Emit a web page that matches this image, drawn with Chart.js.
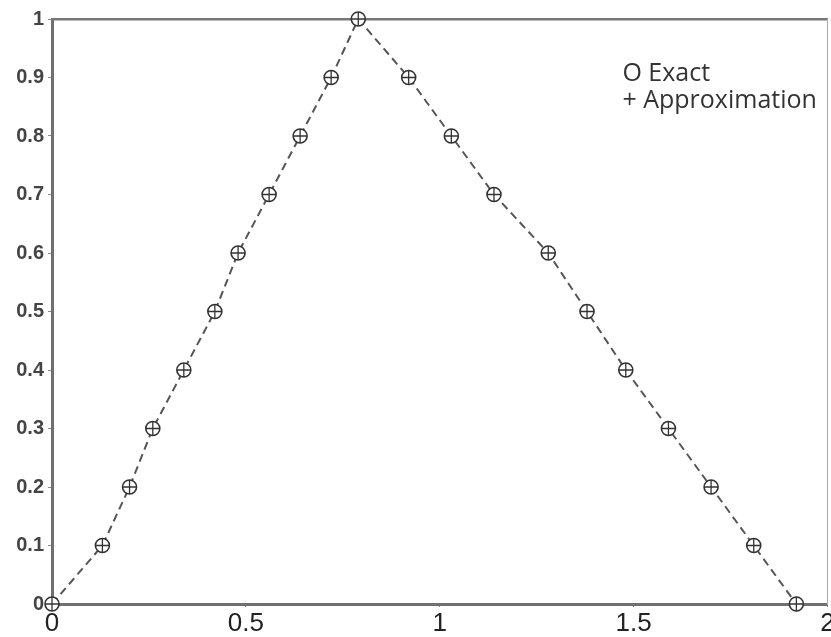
<!DOCTYPE html>
<html>
<head>
<meta charset="utf-8">
<script src="https://cdn.jsdelivr.net/npm/chart.js@4/dist/chart.umd.min.js"></script>
<style>
  html, body { margin: 0; padding: 0; background: #fff; }
  #wrap { width: 831px; height: 637px; overflow: hidden; position: relative; }
  #myChart { display: block; }
</style>
</head>
<body>
<div id="wrap"><canvas id="myChart" width="836" height="637"></canvas></div>
<script>
// values
const xValues = [0, 0.13, 0.20, 0.26, 0.34, 0.42, 0.48, 0.56, 0.64, 0.72, 0.79,
                 0.92, 1.03, 1.14, 1.28, 1.38, 1.48, 1.59, 1.70, 1.81, 1.92];
const exactValues = [0, 0.1, 0.2, 0.3, 0.4, 0.5, 0.6, 0.7, 0.8, 0.9, 1,
                     0.9, 0.8, 0.7, 0.6, 0.5, 0.4, 0.3, 0.2, 0.1, 0];
const approxValues = [0, 0.1, 0.2, 0.3, 0.4, 0.5, 0.6, 0.7, 0.8, 0.9, 1,
                      0.9, 0.8, 0.7, 0.6, 0.5, 0.4, 0.3, 0.2, 0.1, 0];
const xTickValues = [0, 0.5, 1, 1.5, 2];
const yTickValues = [0, 0.1, 0.2, 0.3, 0.4, 0.5, 0.6, 0.7, 0.8, 0.9, 1];
const seriesLabels = ['Exact', 'Approximation'];
const seriesSymbols = ['O', '+'];

const toPoints = (ys) => xValues.map((x, i) => ({ x: x, y: ys[i] }));
const setTicks = (vals) => (scale) => { scale.ticks = vals.map(v => ({ value: v })); };
const plainLabel = (v) => String(v);

// the legend in the picture is just two lines of text inside the plot
const legendText = {
  id: 'legendText',
  afterDraw(chart) {
    const ctx = chart.ctx;
    const area = chart.chartArea;
    ctx.save();
    ctx.font = '25px "Open Sans"';
    ctx.fillStyle = '#333';
    ctx.textBaseline = 'middle';
    seriesLabels.forEach((t, i) => {
      ctx.fillText(seriesSymbols[i] + ' ' + t, area.right - 205, area.top + 55 + i * 27);
    });
    ctx.restore();
  }
};

var ctx = document.getElementById('myChart').getContext('2d');
var chart = new Chart(ctx, {
    type: 'scatter',
    data: {
        datasets: [{
            label: seriesLabels[0],
            data: toPoints(exactValues),
            showLine: true,
            borderColor: '#555',
            borderWidth: 2,
            borderDash: [8, 5],
            pointStyle: 'circle',
            pointRadius: 7,
            pointBackgroundColor: '#fff',
            pointBorderColor: '#333',
            pointBorderWidth: 1.6,
            clip: false,
            order: 2
        }, {
            label: seriesLabels[1],
            data: toPoints(approxValues),
            showLine: false,
            pointStyle: 'cross',
            pointRadius: 7,
            pointBorderColor: '#333',
            pointBorderWidth: 1.3,
            clip: false,
            order: 1
        }]
    },
    options: {
        responsive: false,
        animation: false,
        layout: { padding: { top: 19, left: 0, right: 0, bottom: 0 } },
        plugins: {
            legend: { display: false },
            tooltip: { enabled: false }
        },
        scales: {
            x: {
                type: 'linear',
                position: 'bottom',
                min: 0,
                max: 2,
                afterBuildTicks: setTicks(xTickValues),
                afterFit: (s) => { s.height = 33; },
                border: { color: '#707070', width: 3 },
                grid: { drawOnChartArea: false, tickLength: 3, color: '#888' },
                ticks: { font: { family: 'Liberation Sans', size: 26 }, color: '#222', padding: 1, maxRotation: 0, callback: plainLabel }
            },
            y: {
                type: 'linear',
                position: 'left',
                min: 0,
                max: 1,
                afterBuildTicks: setTicks(yTickValues),
                afterFit: (s) => { s.width = 52; },
                border: { color: '#707070', width: 3 },
                grid: { drawOnChartArea: false, tickLength: 4, color: '#888' },
                ticks: { font: { family: 'Liberation Sans', size: 20, weight: 'bold' }, color: '#444', padding: 4, callback: plainLabel }
            },
            x2: {
                type: 'linear',
                position: 'top',
                min: 0,
                max: 2,
                afterFit: (s) => { s.height = 0; },
                border: { color: '#777', width: 2.5 },
                grid: { display: false },
                ticks: { display: false }
            },
            y2: {
                type: 'linear',
                position: 'right',
                min: 0,
                max: 1,
                afterFit: (s) => { s.width = 0; },
                border: { color: '#aaa', width: 1 },
                grid: { display: false },
                ticks: { display: false }
            }
        }
    },
    plugins: [legendText]
});
</script>
</body>
</html>
